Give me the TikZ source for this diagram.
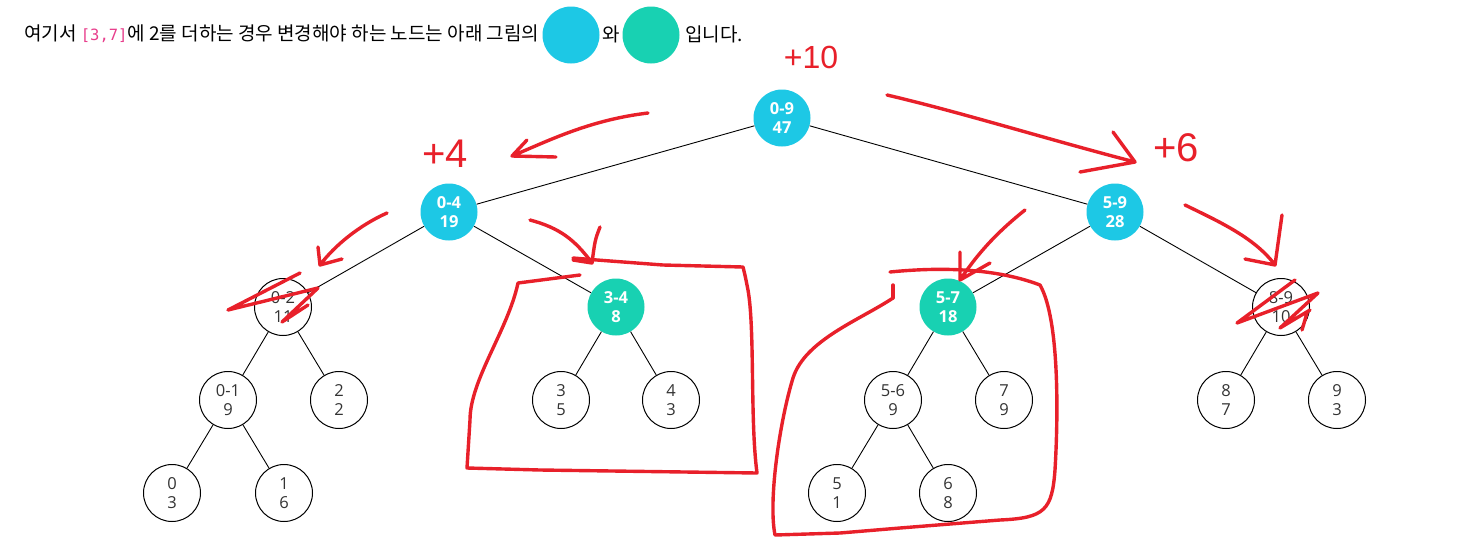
\documentclass[tikz,border=0pt]{standalone}
\usepackage{fontspec}
\usetikzlibrary{arrows.meta,positioning}
\newfontfamily\nodefont{Open Sans}
\newfontfamily\krfont{Noto Sans CJK KR}
\newfontfamily\codefont{DejaVu Sans Mono}
\newfontfamily\handfont{Liberation Sans}
\definecolor{segblue}{HTML}{1DC8E5}
\definecolor{seggreen}{HTML}{18D1B2}
\definecolor{textgray}{HTML}{333333}
\definecolor{codepink}{HTML}{E83E8C}
\definecolor{pen}{HTML}{E8202A}

\begin{document}
\begin{tikzpicture}[x=1pt,y=-1pt,
  tnode/.style={circle,minimum size=57pt,inner sep=0pt,align=center,
    font=\nodefont\fontsize{16.5}{19}\selectfont},
  hit/.style={tnode,fill=segblue,text=white,font=\nodefont\bfseries\fontsize{16.5}{19}\selectfont},
  part/.style={tnode,fill=seggreen,text=white,font=\nodefont\bfseries\fontsize{16.5}{19}\selectfont},
  leaf/.style={tnode,draw=black,line width=1pt,fill=white,text=textgray},
  treeedge/.style={draw=black,line width=0.9pt},
  ink/.style={draw=pen,line width=3.4pt,line cap=round,line join=round},
  note/.style={text=pen,font=\handfont\fontsize{40}{42}\selectfont,inner sep=0pt},
  hdrtext/.style={inner sep=0pt,font=\krfont\fontsize{19}{22}\selectfont}]

  \fill[white] (0,0) rectangle (1468,539);
  \useasboundingbox (0,0) rectangle (1468,539);

  % header line
  \node[hdrtext,anchor=west] (hdr) at (24,34)
    {여기서 {\codefont\color{codepink}\fontsize{15.5}{18}\selectfont[3,7]}에 2를 더하는 경우 변경해야 하는 노드는 아래 그림의};
  \node[circle,minimum size=57pt,inner sep=0pt,fill=segblue] (keyblue) at (571,35) {};
  \node[hdrtext] (wa) at (611,34) {와};
  \node[circle,minimum size=57pt,inner sep=0pt,fill=seggreen] (keygreen) at (651,35) {};
  \node[hdrtext,anchor=west] (tail) at (685,34) {입니다.};

  % segment tree
  \node[hit]  (n09) at (782,118)  {0-9\\47};
  \node[hit]  (n04) at (449,212)  {0-4\\19};
  \node[hit]  (n59) at (1115,212) {5-9\\28};
  \node[leaf] (n02) at (283,307)  {0-2\\11};
  \node[part] (n34) at (616,307)  {3-4\\8};
  \node[part] (n57) at (948,307)  {5-7\\18};
  \node[leaf] (n89) at (1281,307) {8-9\\10};
  \node[leaf] (n01) at (228,400)  {0-1\\9};
  \node[leaf] (n2)  at (339,400)  {2\\2};
  \node[leaf] (n3)  at (561,400)  {3\\5};
  \node[leaf] (n4)  at (671,400)  {4\\3};
  \node[leaf] (n56) at (893,400)  {5-6\\9};
  \node[leaf] (n7)  at (1004,400) {7\\9};
  \node[leaf] (n8)  at (1226,400) {8\\7};
  \node[leaf] (n9)  at (1337,400) {9\\3};
  \node[leaf] (n0)  at (172,493)  {0\\3};
  \node[leaf] (n1)  at (284,493)  {1\\6};
  \node[leaf] (n5)  at (837,493)  {5\\1};
  \node[leaf] (n6)  at (948,493)  {6\\8};

  \foreach \a/\b in {n09/n04,n09/n59,n04/n02,n04/n34,n59/n57,n59/n89,
    n02/n01,n02/n2,n34/n3,n34/n4,n57/n56,n57/n7,n89/n8,n89/n9,
    n01/n0,n01/n1,n56/n5,n56/n6}
    \draw[treeedge] (\a) -- (\b);

  % red pen notes
  \node[note,font=\handfont\fontsize{32}{34}\selectfont] (p10) at (811,57) {+10};
  \node[note] (p4) at (445,154) {+4};
  \node[note] (p6) at (1176,148) {+6};

  % red pen arrows
  \draw[ink] (648,113) .. controls (590,120) and (550,140) .. (512,156)
    (527,140) -- (512,156) -- (556,157);
  \draw[ink] (887,95) .. controls (960,112) and (1050,140) .. (1135,162)
    (1113,132) -- (1135,162) -- (1080,172);
  \draw[ink] (387,213) .. controls (360,225) and (335,245) .. (320,265)
    (318,247) -- (320,265) -- (342,259);
  \draw[ink] (530,220) .. controls (560,228) and (575,240) .. (592,263)
    (600,227) .. controls (595,240) .. (592,263) -- (573,260);
  \draw[ink] (1025,210) .. controls (1000,230) and (980,250) .. (960,280)
    (960,252) -- (960,280) -- (990,263);
  \draw[ink] (1185,205) .. controls (1220,222) and (1255,238) .. (1275,265)
    (1282,215) .. controls (1278,240) .. (1275,265) -- (1245,259);

  % red pen boxes
  \draw[ink] (580,275) -- (518,283) .. controls (508,330) and (470,380) .. (470,420)
    -- (467,468) -- (540,470) -- (757,473) .. controls (750,420) and (755,330) .. (748,290)
    .. controls (745,275) .. (743,267) -- (663,265) -- (597,260) -- (573,258);
  \draw[ink] (890,272) .. controls (930,268) and (990,266) .. (1040,285)
    .. controls (1060,320) and (1058,420) .. (1055,470)
    .. controls (1052,510) and (1045,518) .. (1000,520)
    -- (900,528) -- (840,533) -- (775,535)
    .. controls (768,500) and (780,420) .. (793,378)
    .. controls (805,340) and (860,320) .. (893,298);
  \draw[ink] (893,285) -- (893,298);

  % red pen cross-outs
  \draw[ink] (300,273) -- (228,310) -- (318,288) -- (282,322) -- (308,305);
  \draw[ink] (1295,280) -- (1237,323) -- (1318,293) -- (1280,328) -- (1310,310)
    (1307,313) -- (1302,330);
\end{tikzpicture}
\end{document}
